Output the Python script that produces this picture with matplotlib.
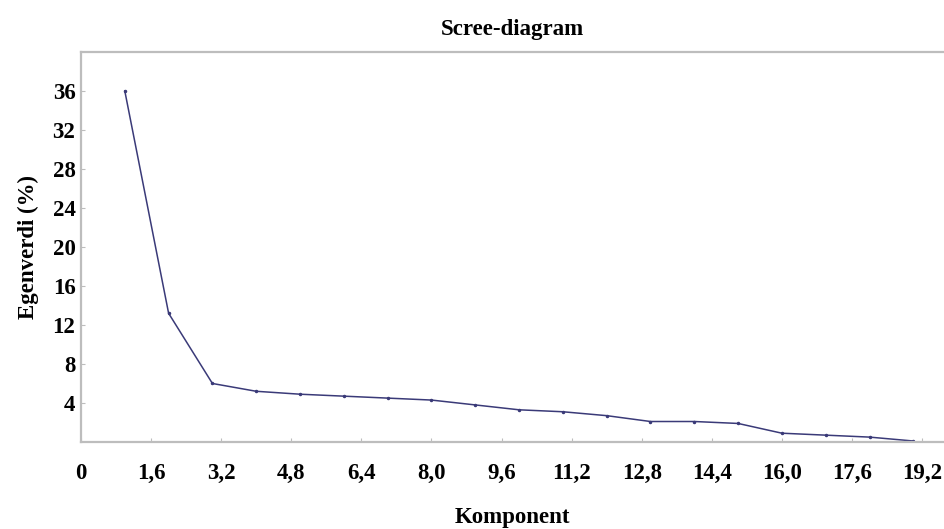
import numpy as np
import matplotlib.pyplot as plt

# scree values
komponent = [1, 2, 3, 4, 5, 6, 7, 8, 9, 10, 11, 12, 13, 14, 15, 16, 17, 18, 19]
egenverdi = [36.0, 13.2, 6.0, 5.2, 4.9, 4.7, 4.5, 4.3, 3.8, 3.3, 3.1, 2.7,
             2.1, 2.1, 1.9, 0.9, 0.7, 0.5, 0.1]
xticks = [0, 1.6, 3.2, 4.8, 6.4, 8.0, 9.6, 11.2, 12.8, 14.4, 16.0, 17.6, 19.2]
yticks = [4, 8, 12, 16, 20, 24, 28, 32, 36]

plt.rcParams['font.family'] = ['Liberation Serif', 'DejaVu Serif']

fig = plt.figure(figsize=(9.44, 5.29), dpi=100)
ax = fig.add_axes([0.0858, 0.1645, 0.9142, 0.7372])

ax.plot(komponent, egenverdi, color='#3a3a78', lw=1.1, marker='.', ms=3)

ax.set_xlim(0, 19.7)
ax.set_ylim(0, 40)
ax.set_xticks(xticks)
ax.set_xticklabels([('%.1f' % t).replace('.', ',') if t else '0' for t in xticks])
ax.set_yticks(yticks)

for s in ['top', 'bottom', 'left']:
    ax.spines[s].set_color('#bdbdbd')
    ax.spines[s].set_linewidth(1.6)
ax.spines['right'].set_visible(False)

ax.tick_params(axis='x', direction='in', length=3, color='#bdbdbd', pad=15,
               labelsize=16.5)
ax.tick_params(axis='y', direction='in', length=3, color='#bdbdbd', pad=4,
               labelsize=16.5)
for lab in ax.get_xticklabels() + ax.get_yticklabels():
    lab.set_fontweight('bold')

ax.set_title('Scree-diagram', fontsize=16.5, fontweight='bold', pad=12)
ax.set_xlabel('Komponent', fontsize=16.5, fontweight='bold', labelpad=17)
ax.set_ylabel('Egenverdi (%)', fontsize=16.5, fontweight='bold', labelpad=10)

fig.savefig('out.png', dpi=100)
